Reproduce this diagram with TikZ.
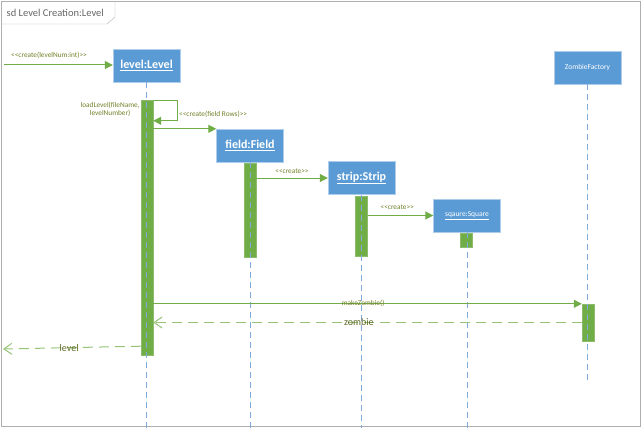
\documentclass[tikz,border=0pt]{standalone}
\usepackage{fontspec}
\setmainfont{Carlito}
\usepackage{tikz}
\usetikzlibrary{arrows.meta,positioning}
\definecolor{boxblue}{RGB}{91,155,213}
\definecolor{actgreen}{RGB}{112,173,71}
\definecolor{msgtext}{RGB}{112,128,40}
\definecolor{retgreen}{RGB}{150,195,120}
\definecolor{framegray}{RGB}{175,175,175}
\definecolor{lifeblue}{RGB}{125,170,218}
\newcommand{\stereo}[1]{{<}{<}#1{>}{>}}
\tikzset{
    %Define standard arrow tip
    >={Triangle[length=8pt,width=8pt]},
    %Define style for lifeline heads
    head/.style={
           rectangle,
           draw=boxblue!50!white,
           fill=boxblue,
           minimum width=67pt,
           minimum height=33pt,
           inner sep=0pt,
           text=white,
           font=\bfseries\fontsize{12}{14}\selectfont,
           text centered},
    smallhead/.style={
           head,
           font=\fontsize{7.5}{9}\selectfont},
    %Define style for activation bars
    act/.style={
           rectangle,
           fill=actgreen,
           draw=actgreen!80!white,
           minimum width=12pt,
           inner sep=0pt},
    lifeline/.style={
           draw=lifeblue,
           line width=1pt,
           dash pattern=on 6pt off 4pt},
    % Define arrow styles
    msg/.style={
           ->,
           draw=actgreen,
           line width=1pt},
    ret/.style={
           -{Straight Barb[length=8pt,width=11pt]},
           draw=retgreen,
           line width=1pt,
           dash pattern=on 10pt off 6pt},
    msglabel/.style={
           font=\fontsize{7.3}{8.5}\selectfont,
           text=msgtext,
           inner sep=0pt,
           align=center},
    retlabel/.style={
           font=\fontsize{10}{11}\selectfont,
           text=msgtext!80!black,
           inner sep=0pt}
}
\begin{document}
\begin{tikzpicture}[x=1pt,y=-1pt]
\useasboundingbox (0,0) rectangle (642,428);
 %frame
\draw[framegray] (1.5,1.5) rectangle (640,426);
\draw[framegray] (1.5,24) -- (107,24) -- (115,17) -- (115,1.5);
\node[anchor=west, text=black!60, font=\fontsize{10.5}{12}\selectfont, inner sep=0pt] (title) at (6.5,13) {sd Level Creation:Level};
 %heads
\node[head] (lvl) at (146.5,65.5) {\underline{level:Level}};
\node[head] (fld) at (250,145.5) {\underline{field:Field}};
\node[head] (str) at (361.5,178) {\underline{strip:Strip}};
\node[smallhead] (sq) at (467,215.5) {\underline{sqaure:Square}};
\node[smallhead] (zf) at (587.5,67.5) {ZombieFactory};
 %activations
\node[act, minimum height=255pt] (a1) at (147,227.5) {};
\node[act, minimum height=94pt] (a2) at (250,210) {};
\node[act, minimum height=60pt] (a3) at (361.5,226) {};
\node[act, minimum height=14pt] (a4) at (466,240) {};
\node[act, minimum height=37pt] (a5) at (588,322.5) {};
 %lifelines
\draw[lifeline] (lvl.south) -- (lvl.south |- 0,428);
\draw[lifeline] (fld.south) -- (fld.south |- 0,428);
\draw[lifeline] (str.south) -- (str.south |- 0,428);
\draw[lifeline] (sq.south) -- (sq.south |- 0,428);
\draw[lifeline] (zf.south) -- (zf.south |- 0,380);
 %messages
\coordinate (found) at (4,65);
\draw[msg] (found) -- (lvl.west |- found);
\node[msglabel, anchor=west] (m0) at (11,55) {\stereo{create(levelNum:int)}};
\draw[msg] ([yshift=-1pt]a1.north east) -- ++(24,0) -- ++(0,20) -- ++(-24,0);
\node[msglabel, left=1pt of a1.north west, anchor=north east, yshift=-2pt] (m1) {loadLevel(fileName,\\levelNumber)};
\node[msglabel, anchor=west] (m2) at (179,114) {\stereo{create(field Rows)}};
\draw[msg] (a1.east |- fld.north west) -- (fld.north west);
\draw[msg] (a2.east |- str.west) -- (str.west) node[msglabel, midway, above=4pt] (m3) {\stereo{create}};
\draw[msg] (a3.east |- sq.west) -- (sq.west) node[msglabel, pos=0.45, above=5pt] (m4) {\stereo{create}};
\draw[msg] (a1.east |- a5.north) -- (a5.north west) node[msglabel, pos=0.49] (m5) {makeZombie()};
\draw[ret] (a5.west) -- (a1.east |- a5.west) node[retlabel, pos=0.52] (m6) {zombie};
\coordinate (back) at (3,349);
\draw[ret] ([yshift=9pt]a1.south west) -- (back) node[retlabel, pos=0.52] (m7) {level};
\end{tikzpicture}
\end{document}
